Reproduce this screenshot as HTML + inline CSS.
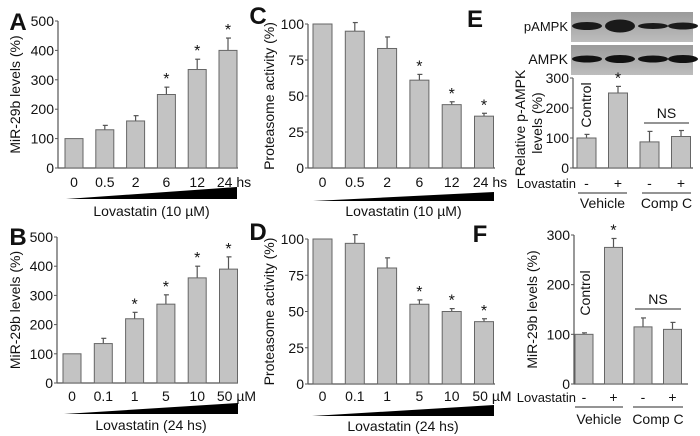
<!DOCTYPE html>
<html><head><meta charset="utf-8"><style>
html,body{margin:0;padding:0;background:#fff;}
svg{display:block;font-family:"Liberation Sans",Arial,sans-serif;}
</style></head><body>
<svg id="fig" width="700" height="436" viewBox="0 0 700 436">
<defs><linearGradient id="blot" x1="0" y1="0" x2="0" y2="1"><stop offset="0" stop-color="#9a9a9a"/><stop offset="1" stop-color="#bdbdbd"/></linearGradient></defs>
</svg>
<script>
const catsA=["0","0.5","2","6","12","24 hs"];
const valsA=[100,130,160,250,335,400];
const errA=[0,15,18,25,35,42];
const sigA=[0,0,0,1,1,1];
const catsB=["0","0.1","1","5","10","50 µM"];
const valsB=[100,135,220,270,360,390];
const errB=[0,18,22,32,40,42];
const sigB=[0,0,1,1,1,1];
const catsC=["0","0.5","2","6","12","24 hs"];
const valsC=[100,95,83,61,44,36];
const errC=[0,6,8,4,2,2];
const sigC=[0,0,0,1,1,1];
const catsD=["0","0.1","1","5","10","50 µM"];
const valsD=[100,97,80,55,50,43];
const errD=[0,6,7,3,2,2];
const sigD=[0,0,0,1,1,1];
const catsE=["-","+","-","+"];
const valsE=[100,250,87,105];
const errE=[12,22,35,20];
const sigE=[0,1,0,0];
const catsF=["-","+","-","+"];
const valsF=[100,275,115,110];
const errF=[3,18,18,14];
const sigF=[0,1,0,0];
const ticksAB=[0,100,200,300,400,500];
const ticksCD=[0,25,50,75,100];
const ticksEF=[0,100,200,300];

const svg=document.getElementById('fig');
const NS='http://www.w3.org/2000/svg';
function mk(tag,attrs,parent){const e=document.createElementNS(NS,tag);for(const k in attrs)e.setAttribute(k,attrs[k]);(parent||svg).appendChild(e);return e;}
function txt(s,x,y,size,anchor,parent,extra){const t=mk('text',Object.assign({x:x,y:y,'font-size':size,'text-anchor':anchor||'middle',fill:'#111'},extra||{}),parent);t.textContent=s;return t;}

function panel(cfg){
  const g=mk('g',{});
  
  
  const ymax=cfg.ticks[cfg.ticks.length-1];
  const yS=v=>cfg.y0-(v/ymax)*(cfg.y0-cfg.yTop);
  const xS=i=>cfg.bx0+i*cfg.step;
  const ya=mk('line',{x1:cfg.ax,y1:cfg.yTop,x2:cfg.ax,y2:cfg.y0,stroke:'#555','stroke-width':1.2},g);
  
  const xa=mk('line',{x1:cfg.ax,y1:cfg.y0,x2:cfg.axEnd,y2:cfg.y0,stroke:'#555','stroke-width':1.2},g);
  
  cfg.ticks.forEach(t=>{
    mk('line',{x1:cfg.ax-3,y1:yS(t),x2:cfg.ax,y2:yS(t),stroke:'#555'},g);
    const tl=txt(String(t),cfg.ax-4,yS(t)+5,14,'end',g);
    
  });
  cfg.vals.forEach((v,i)=>{
    const x=xS(i);
    const e=cfg.err[i];
    if(e>0){
      mk('line',{x1:x+cfg.bw/2,y1:yS(v),x2:x+cfg.bw/2,y2:yS(v+e),stroke:'#555','stroke-width':1.2},g);
      mk('line',{x1:x+cfg.bw/2-2,y1:yS(v+e),x2:x+cfg.bw/2+3,y2:yS(v+e),stroke:'#555','stroke-width':1.2},g);
    }
    const b=mk('rect',{x:x,y:yS(v),width:cfg.bw,height:cfg.y0-yS(v),fill:'#c3c3c3',stroke:'#666','stroke-width':1},g);
    
    
    if(cfg.sig[i]){const s=txt('*',x+cfg.bw/2,yS(v+e)-3,16,'middle',g);}
    if(cfg.cats){
      const lx=x+cfg.bw/2+(i===cfg.vals.length-1&&cfg.lastShift?cfg.lastShift:0);
      const cl=txt(cfg.cats[i],lx,cfg.catY,14,'middle',g);
      
    }
  });
  const yt=txt(cfg.ytitle,0,0,14,'middle',g,{transform:`translate(${cfg.ytx},${(cfg.yTop+cfg.y0)/2}) rotate(-90)`});
  
  const L=txt(cfg.letter,cfg.lx,cfg.ly,24,'middle',g,{'font-weight':'bold'});
  
  return {g,xS,yS};
}

function wedge(x1,x2,yb,h,label,ly,name){
  const p=mk('polygon',{points:`${x1},${yb} ${x2},${yb-h} ${x2},${yb}`,fill:'#000'});
  
  const t=txt(label,(x1+x2)/2,ly,14);
  
}

panel({name:'panel-a',letter:'A',lx:18,ly:30,ax:58,axEnd:238,yTop:21,y0:168,bx0:65,step:30.8,bw:18,ticks:ticksAB,vals:valsA,err:errA,sig:sigA,cats:catsA,catY:187,lastShift:6,ytitle:'MiR-29b levels (%)',ytx:20});
wedge(66,237,199,12,'Lovastatin (10 µM)',216,'panel-a');
panel({name:'panel-b',letter:'B',lx:18,ly:245,ax:57,axEnd:238,yTop:237,y0:383,bx0:63,step:31.3,bw:18,ticks:ticksAB,vals:valsB,err:errB,sig:sigB,cats:catsB,catY:401,lastShift:8,ytitle:'MiR-29b levels (%)',ytx:20});
wedge(64,238,414,11,'Lovastatin (24 hs)',430,'panel-b');
panel({name:'panel-c',letter:'C',lx:258,ly:24,ax:308,axEnd:495,yTop:24,y0:168,bx0:313,step:32.3,bw:19,ticks:ticksCD,vals:valsC,err:errC,sig:sigC,cats:catsC,catY:187,lastShift:6,ytitle:'Proteasome activity  (%)',ytx:274});
wedge(313,494,201,9,'Lovastatin (10 µM)',216,'panel-c');
panel({name:'panel-d',letter:'D',lx:258,ly:240,ax:308,axEnd:495,yTop:239,y0:384,bx0:313,step:32.3,bw:19,ticks:ticksCD,vals:valsD,err:errD,sig:sigD,cats:catsD,catY:401,lastShift:8,ytitle:'Proteasome activity  (%)',ytx:274});
wedge(312,494,416,11,'Lovastatin (24 hs)',431,'panel-d');

const blotX=[578,611,644,674];
const pw=[8,13,6,7];
const aw=[7,8,7,8];
const blots=mk('g',{});

const b1=mk('rect',{x:571,y:12,width:122,height:30,fill:'url(#blot)'},blots);

const b2=mk('rect',{x:571,y:45,width:122,height:30,fill:'url(#blot)'},blots);

blotX.forEach((x,i)=>{
  mk('ellipse',{cx:x+9,cy:26,rx:15,ry:pw[i]/2,fill:'#1a1a1a'},blots);
  mk('ellipse',{cx:x+9,cy:59,rx:15,ry:aw[i]/2,fill:'#111'},blots);
});
let t=txt('pAMPK',568,31,13,'end');
t=txt('AMPK',568,64,14,'end');

function groupLabels(cfg){
  let a=txt('Lovastatin',cfg.lovX,cfg.rowY,13,'end');
  const l1=mk('line',{x1:cfg.v1,y1:cfg.lineY,x2:cfg.v2,y2:cfg.lineY,stroke:'#555','stroke-width':1.2});
  
  const l2=mk('line',{x1:cfg.c1,y1:cfg.lineY,x2:cfg.c2,y2:cfg.lineY,stroke:'#555','stroke-width':1.2});
  
  a=txt('Vehicle',(cfg.v1+cfg.v2)/2,cfg.labY,14);
  a=txt('Comp C',(cfg.c1+cfg.c2)/2,cfg.labY,14);
  const ns=mk('line',{x1:cfg.c1+2,y1:cfg.nsY,x2:cfg.c2-2,y2:cfg.nsY,stroke:'#555','stroke-width':1.2});
  
  a=txt('NS',(cfg.c1+cfg.c2)/2,cfg.nsY-5,14);
  a=txt('Control',0,0,14,'middle',null,{transform:`translate(${cfg.ctlX},${cfg.ctlY}) rotate(-90)`});
}

panel({name:'panel-e',letter:'E',lx:475,ly:27,ax:573,axEnd:693,yTop:78,y0:168,bx0:577,step:31.5,bw:19,ticks:ticksEF,vals:valsE,err:errE,sig:sigE,cats:catsE,catY:188,ytitle:'',ytx:0});
t=txt('Relative p-AMPK',0,0,14,'middle',null,{transform:'translate(525,123) rotate(-90)'});
t=txt('levels (%)',0,0,14,'middle',null,{transform:'translate(542,123) rotate(-90)'});
groupLabels({lovX:576,rowY:188,lineY:193,v1:578,v2:627,c1:642,c2:691,labY:208,nsY:123,ctlX:591,ctlY:105});

panel({name:'panel-f',letter:'F',lx:480,ly:242,ax:574,axEnd:688,yTop:235,y0:384,bx0:575,step:29.5,bw:18,ticks:ticksEF,vals:valsF,err:errF,sig:sigF,cats:catsF,catY:402,ytitle:'MiR-29b levels (%)',ytx:537});
groupLabels({lovX:576,rowY:402,lineY:407,v1:575,v2:623,c1:633,c2:683,labY:424,nsY:309,ctlX:590,ctlY:293});
</script>
</body></html>
